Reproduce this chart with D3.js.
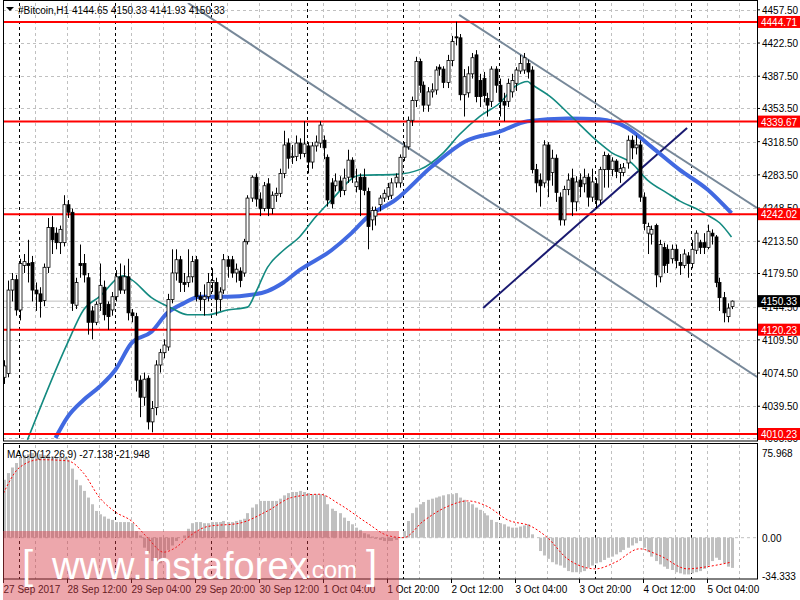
<!DOCTYPE html>
<html><head><meta charset="utf-8">
<script src="https://cdn.jsdelivr.net/npm/d3@7"></script>
<style>body{margin:0;background:#fff}svg{display:block}text{font-family:"Liberation Sans",Arial,sans-serif}</style>
</head><body><svg id="c" width="800" height="600"></svg>
<script>
const open=[4070,4074,4162,4173,4141,4188,4190,4191,4162,4158,4151,4186,4228,4222,4212,4212,4252,4244,4146,4190,4190,4175,4140,4128,4148,4165,4147,4141,4155,4176,4162,4176,4138,4134,4067,4049,4069,4023,4038,4083,4096,4102,4152,4180,4194,4170,4170,4176,4194,4155,4152,4155,4170,4170,4152,4162,4194,4194,4180,4182,4180,4213,4259,4281,4258,4248,4274,4248,4262,4264,4285,4317,4303,4303,4317,4306,4314,4297,4314,4317,4320,4302,4275,4272,4277,4267,4281,4299,4271,4281,4281,4266,4236,4240,4252,4259,4261,4262,4275,4275,4302,4313,4341,4362,4403,4378,4357,4371,4373,4397,4395,4381,4404,4429,4428,4368,4370,4390,4410,4383,4385,4364,4361,4395,4378,4361,4361,4371,4380,4393,4394,4401,4394,4289,4278,4275,4315,4286,4301,4260,4236,4268,4280,4255,4278,4274,4281,4260,4274,4257,4289,4304,4289,4298,4286,4286,4296,4320,4312,4315,4260,4222,4221,4230,4176,4207,4205,4195,4205,4191,4188,4198,4190,4204,4212,4212,4207,4222,4218,4170,4154,4134,4144.65];
const close=[4082,4162,4173,4141,4190,4192,4188,4162,4158,4150,4186,4228,4215,4212,4226,4252,4244,4148,4170,4188,4178,4128,4128,4147,4167,4136,4134,4155,4176,4162,4176,4138,4135,4067,4049,4068,4023,4037,4083,4096,4104,4152,4180,4194,4170,4168,4176,4192,4155,4152,4155,4170,4172,4152,4160,4194,4187,4180,4184,4172,4213,4259,4281,4258,4248,4272,4248,4262,4264,4285,4315,4301,4303,4317,4306,4316,4297,4314,4318,4336,4312,4257,4253,4277,4267,4280,4299,4281,4276,4268,4267,4229,4246,4246,4259,4264,4270,4275,4281,4302,4313,4341,4362,4403,4378,4357,4371,4373,4394,4395,4381,4404,4424,4428,4368,4387,4390,4407,4366,4366,4367,4357,4395,4378,4361,4357,4380,4383,4394,4401,4407,4392,4289,4275,4272,4315,4278,4301,4265,4236,4268,4278,4255,4276,4271,4281,4260,4276,4257,4289,4304,4289,4298,4287,4290,4291,4320,4312,4315,4260,4232,4229,4226,4178,4210,4188,4190,4205,4193,4188,4200,4190,4205,4222,4207,4207,4224,4219,4170,4154,4138,4143,4150.33];
const high=[4088,4172,4180,4178,4195,4200,4215,4198,4170,4165,4190,4238,4240,4228,4230,4262,4257,4248,4175,4210,4200,4180,4145,4150,4190,4172,4150,4160,4183,4190,4188,4195,4142,4138,4072,4075,4072,4045,4088,4100,4110,4158,4205,4205,4198,4180,4205,4198,4198,4160,4168,4180,4185,4175,4165,4200,4198,4198,4190,4186,4216,4262,4283,4285,4265,4276,4280,4266,4270,4290,4330,4322,4315,4325,4322,4340,4318,4318,4325,4340,4325,4305,4280,4285,4282,4290,4310,4302,4290,4285,4290,4270,4250,4250,4262,4268,4275,4280,4285,4305,4318,4345,4366,4408,4406,4382,4376,4380,4398,4400,4398,4410,4430,4445,4432,4395,4398,4412,4415,4390,4392,4370,4398,4398,4385,4370,4385,4390,4397,4410,4412,4405,4398,4295,4285,4320,4318,4310,4305,4265,4272,4285,4290,4282,4285,4290,4285,4290,4280,4292,4308,4306,4302,4300,4295,4296,4325,4325,4325,4320,4265,4233,4230,4232,4215,4212,4210,4210,4210,4200,4205,4202,4215,4225,4215,4222,4231,4226,4220,4175,4160,4148,4151];
const low=[4063,4070,4150,4135,4130,4180,4170,4150,4140,4133,4145,4180,4200,4205,4200,4208,4238,4140,4142,4175,4170,4115,4110,4125,4140,4130,4120,4135,4150,4158,4158,4130,4128,4055,4028,4040,4015,4012,4030,4075,4090,4098,4148,4172,4160,4160,4165,4170,4150,4140,4135,4150,4160,4135,4140,4158,4175,4175,4170,4165,4176,4210,4255,4250,4240,4245,4240,4242,4255,4260,4280,4290,4295,4298,4300,4302,4285,4290,4308,4312,4300,4250,4248,4266,4260,4262,4275,4275,4265,4240,4262,4205,4225,4230,4245,4255,4257,4258,4270,4270,4298,4310,4335,4355,4370,4350,4350,4365,4368,4388,4375,4375,4398,4420,4362,4345,4365,4385,4360,4355,4360,4345,4355,4370,4345,4340,4355,4365,4372,4390,4390,4385,4285,4265,4250,4270,4260,4272,4255,4230,4230,4262,4240,4245,4260,4265,4250,4255,4248,4252,4270,4270,4282,4280,4275,4282,4290,4300,4305,4255,4225,4200,4210,4165,4170,4180,4180,4190,4185,4178,4185,4175,4185,4200,4200,4200,4205,4210,4165,4140,4128,4128,4141.93];
const maFast=[[6,4004],[16,4106],[20,4141],[24,4155],[30,4177],[32,4173],[37,4154],[42,4143],[46,4136],[51,4136],[56,4141],[61,4144],[63,4159],[66,4186],[70,4204],[74,4218],[78,4239],[82,4257],[89,4283],[98,4284],[104,4289],[110,4307],[114,4326],[119,4345],[124,4359],[128,4377],[131,4382],[132,4379],[137,4365],[142,4345],[149,4317],[152,4307],[157,4296],[161,4278],[166,4264],[169,4256],[174,4246],[176,4241],[179,4233],[182,4218]];
const maSlow=[[13,4006],[16,4028],[20,4046],[24,4060],[28,4078],[32,4106],[37,4118],[41,4138],[45,4148],[49,4155],[56,4155],[62,4157],[66,4161],[70,4170],[74,4183],[82,4204],[87,4222],[91,4239],[98,4257],[107,4292],[116,4320],[124,4329],[131,4340],[141,4343],[149,4342],[156,4333],[162,4313],[169,4289],[176,4268],[182,4243]];
const channelUpper=[[113.9,4452.1],[188.4,4248.6]];
const channelLower=[[46.1,4464.7],[188.4,4070.3]];
const supportLine=[[119.9,4143.1],[170.9,4332.9]];
const levels=[4444.71,4339.67,4242.02,4120.23,4010.23];
const lastPrice=4150.33;
const priceTicks=[4457.50,4422.50,4387.50,4353.50,4318.50,4283.50,4248.50,4213.50,4179.50,4144.50,4109.50,4074.50,4039.50,4005.50];
const macdHist=[52,58,63,67,72,74,75,76,76,75,74,74,73,72,73,72,70,62,52,47,42,36,30,24,21,19,17,16,14,14,14,14,13,6,2,-9,-14,-21,-22,-23,-18,-11,-7,-3,0,2,8,13,14,14,13,13,14,14,14,15,14,14,15,16,17,22,27,30,33,33,33,33,33,35,38,40,41,41,42,41,40,39,39,39,38,30,26,24,22,18,15,12,9,7,4,3,1,-1,-2,-3,-3,-3,-2,0,6,15,22,27,30,32,34,35,36,37,38,39,39,40,36,34,32,30,27,25,22,20,16,14,13,12,10,9,9,10,11,12,3,0,-12,-16,-19,-22,-24,-25,-27,-30,-31,-31,-31,-30,-27,-25,-23,-22,-20,-18,-17,-15,-13,-11,-9,-7,-5,-3,-9,-13,-17,-21,-24,-26,-28,-29,-31,-32,-33,-33,-32,-31,-30,-28,-25,-21,-18,-20,-23,-26,-27.138];
const macdSignal=[[0,40],[4,63],[9,70],[16,69],[20,58],[24,36],[28,23],[32,15],[36,0],[40,-13],[43,-9],[46,0],[51,10],[59,13],[66,24],[72,36],[79,39],[84,30],[91,13],[96,2],[100,0],[105,15],[111,28],[116,33],[121,28],[126,16],[132,10],[136,0],[141,-19],[148,-28],[153,-22],[159,-10],[164,-16],[171,-28],[176,-26],[182,-21.948]];
const macdTicks=[75.968,0,-34.333];
const timeLabels=[[0,"27 Sep 2017"],[16,"28 Sep 12:00"],[32,"29 Sep 04:00"],[48,"29 Sep 20:00"],[64,"30 Sep 12:00"],[80,"1 Oct 04:00"],[96,"1 Oct 20:00"],[112,"2 Oct 12:00"],[128,"3 Oct 04:00"],[144,"3 Oct 20:00"],[160,"4 Oct 12:00"],[176,"5 Oct 04:00"]];

const svg=d3.select("#c");
const L=3,R=757,mT=3,mB=440,dT=445,dB=579;
const x=d3.scaleLinear().domain([0,182]).range([3.5,731.5]);
const y=d3.scaleLinear().domain([4003.9,4464.7]).range([mB,mT]);
const ym=d3.scaleLinear().domain([-37.1,83.2]).range([dB,dT]);
const defs=svg.append("defs");
defs.append("clipPath").attr("id","cm").append("rect").attr("x",L).attr("y",mT).attr("width",R-L).attr("height",mB-mT);
defs.append("clipPath").attr("id","cd").append("rect").attr("x",L).attr("y",dT).attr("width",R-L).attr("height",dB-dT);
const main=svg.append("g").attr("clip-path","url(#cm)");
const sub=svg.append("g").attr("clip-path","url(#cd)");
// grid verticals
const vb=d3.range(0,190,8);
[[main,mT,mB],[sub,dT,dB]].forEach(([g,t,b])=>{
  g.selectAll(null).data(vb.filter(i=>(i-4)%24!==0)).enter().append("line")
   .attr("x1",d=>x(d)).attr("x2",d=>x(d)).attr("y1",t).attr("y2",b).attr("stroke","#c0c0c0").attr("stroke-dasharray","3,3");
  g.selectAll(null).data(d3.range(4,190,24)).enter().append("line")
   .attr("x1",d=>x(d)).attr("x2",d=>x(d)).attr("y1",t).attr("y2",b).attr("stroke","#000").attr("stroke-dasharray","3,3");
});
main.selectAll(null).data(priceTicks).enter().append("line").attr("x1",L).attr("x2",R).attr("y1",d=>Math.round(y(d))+.5).attr("y2",d=>Math.round(y(d))+.5).attr("stroke","#c0c0c0").attr("stroke-dasharray","3,3");
[25,50,-25].forEach(v=>{});
sub.append("line").attr("x1",L).attr("x2",R).attr("y1",ym(0)).attr("y2",ym(0)).attr("stroke","#c0c0c0").attr("stroke-dasharray","3,3");
// last price line
main.append("line").attr("x1",L).attr("x2",R).attr("y1",y(lastPrice)).attr("y2",y(lastPrice)).attr("stroke","#c0c0c0");
// trend lines
const ln=d3.line().x(d=>x(d[0])).y(d=>y(d[1]));
[channelUpper,channelLower].forEach(c=>main.append("path").attr("d",ln(c)).attr("stroke","#778899").attr("stroke-width",2).attr("fill","none"));
main.append("path").attr("d",ln(supportLine)).attr("stroke","#191970").attr("stroke-width",2).attr("fill","none");
// MAs
const cl=d3.line().x(d=>x(d[0])).y(d=>y(d[1])).curve(d3.curveMonotoneX);
main.append("path").attr("d",cl(maSlow)).attr("stroke","#4169e1").attr("stroke-width",4).attr("fill","none");
main.append("path").attr("d",cl(maFast)).attr("stroke","#138a80").attr("stroke-width",1.6).attr("fill","none");
// levels
main.selectAll(null).data(levels).enter().append("line").attr("x1",L).attr("x2",R).attr("y1",d=>y(d)).attr("y2",d=>y(d)).attr("stroke","#ff0000").attr("stroke-width",2);
// candles
const idx=d3.range(close.length);
main.selectAll(null).data(idx).enter().append("line").attr("x1",i=>Math.round(x(i))+.5).attr("x2",i=>Math.round(x(i))+.5).attr("y1",i=>y(high[i])).attr("y2",i=>y(low[i])).attr("stroke","#000");
main.selectAll(null).data(idx).enter().append("rect").attr("x",i=>Math.round(x(i))-1).attr("width",3)
 .attr("y",i=>y(Math.max(open[i],close[i]))).attr("height",i=>Math.max(1,Math.abs(y(open[i])-y(close[i]))))
 .attr("fill",i=>close[i]>=open[i]?"#fff":"#000").attr("stroke","#000").attr("stroke-width",close[i=>0]===undefined?0.8:0.8);
// MACD
sub.selectAll(null).data(idx).enter().append("rect").attr("x",i=>Math.round(x(i))-1).attr("width",3)
 .attr("y",i=>Math.min(ym(0),ym(macdHist[i]))).attr("height",i=>Math.abs(ym(macdHist[i])-ym(0))).attr("fill","#c0c0c0");
sub.append("path").attr("d",d3.line().x(d=>x(d[0])).y(d=>ym(d[1])).curve(d3.curveMonotoneX)(macdSignal)).attr("stroke","#ff0000").attr("stroke-dasharray","2,2").attr("fill","none");
// frames
svg.append("rect").attr("x",L+.5).attr("y",.5).attr("width",R-L).attr("height",mB+.5).attr("fill","none").attr("stroke","#000");
svg.append("rect").attr("x",L+.5).attr("y",dT-1.5).attr("width",R-L).attr("height",dB-dT+1.5).attr("fill","none").attr("stroke","#000");
// price axis
const ax=svg.append("g");
ax.selectAll(null).data(priceTicks).enter().append("text").attr("x",762).attr("y",d=>y(d)+4).attr("font-size",10).text(d=>d.toFixed(2));
ax.selectAll(null).data(priceTicks).enter().append("line").attr("x1",R).attr("x2",R+3).attr("y1",d=>y(d)).attr("y2",d=>y(d)).attr("stroke","#000");
levels.forEach(v=>{const g=ax.append("g");g.append("rect").attr("x",758).attr("y",y(v)-6).attr("width",42).attr("height",12).attr("fill","#ff0000");
 g.append("text").attr("x",761).attr("y",y(v)+4).attr("font-size",10).attr("fill","#fff").text(v.toFixed(2));});
{const g=ax.append("g");g.append("rect").attr("x",758).attr("y",y(lastPrice)-6).attr("width",42).attr("height",12).attr("fill","#000");
 g.append("text").attr("x",761).attr("y",y(lastPrice)+4).attr("font-size",10).attr("fill","#fff").text(lastPrice.toFixed(2));}
ax.selectAll(null).data(macdTicks).enter().append("text").attr("x",762).attr("y",d=>ym(d)+4).attr("font-size",10).text(d=>d===0?"0.00":String(d));
// time axis
svg.selectAll(null).data(timeLabels).enter().append("text").attr("x",d=>x(d[0])).attr("y",593).attr("font-size",10).text(d=>d[1]);
svg.selectAll(null).data(timeLabels).enter().append("line").attr("x1",d=>x(d[0])).attr("x2",d=>x(d[0])).attr("y1",dB).attr("y2",dB+4).attr("stroke","#000");
// header
svg.append("path").attr("d","M6,7 L14,7 L10,11 Z").attr("fill","#000");
svg.append("text").attr("x",18).attr("y",14).attr("font-size",10).text("#Bitcoin,H1  4144.65 4150.33 4141.93 4150.33");
svg.append("text").attr("x",7).attr("y",458).attr("font-size",10).text("MACD(12,26,9) -27.138 -21.948");
// watermark
const w=svg.append("g");
w.append("rect").attr("x",3).attr("y",531).attr("width",396).attr("height",69).attr("fill","rgba(215,60,70,0.45)");
w.append("text").attr("x",22).attr("y",579).attr("font-size",40).attr("fill","#fff").attr("font-weight",300).text("[");
w.append("text").attr("x",52).attr("y",579).attr("font-size",38).attr("fill","#fff").text("www.instaforex");
w.append("text").attr("x",305).attr("y",578).attr("font-size",24).attr("fill","#fff").text(".com");
w.append("text").attr("x",366).attr("y",579).attr("font-size",40).attr("fill","#fff").text("]");
</script></body></html>
